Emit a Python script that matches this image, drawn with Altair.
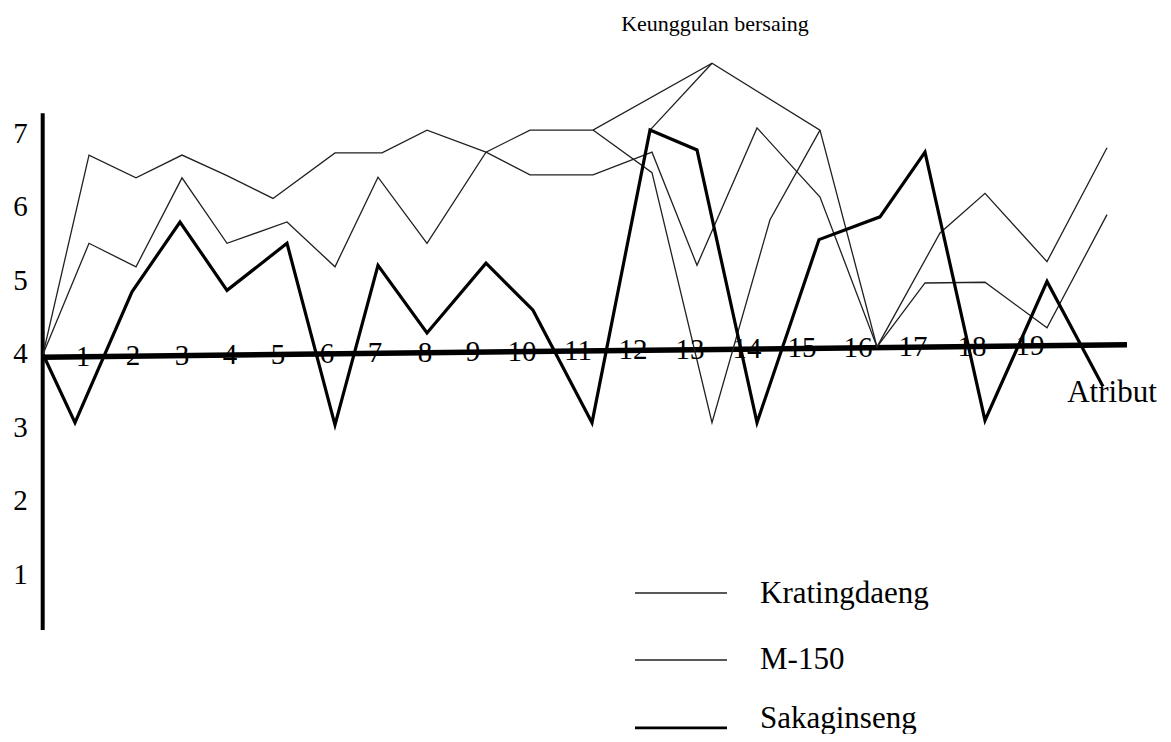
import altair as alt
import pandas as pd

FONT = "Liberation Serif, Times New Roman, Tinos, DejaVu Serif, serif"

# ---- data (x in attribute units, y on the 1..7 score scale) ----
series_names = ["Kratingdaeng", "M-150", "Sakaginseng"]

krating_x = [0, 0.92, 1.86, 2.78, 3.68, 4.6, 5.84, 6.78, 7.68, 8.86, 9.74, 11.0,
             12.18, 13.08, 14.28, 15.54, 16.68, 17.64, 18.84, 20.08, 21.28]
krating_y = [4.0, 6.71, 6.40, 6.71, 6.43, 6.12, 6.74, 6.74, 7.05, 6.75, 6.44, 6.44,
             6.75, 5.21, 7.08, 6.14, 4.10, 4.97, 4.98, 4.36, 5.90]
krating_branch_x = [12.14, 13.38]
krating_branch_y = [7.05, 7.96]

m150_x = [0, 0.92, 1.86, 2.78, 3.68, 4.88, 5.84, 6.7, 7.68, 8.86, 9.74, 11.0,
          13.38, 15.54, 16.68, 17.94, 18.84, 20.08, 21.28]
m150_y = [4.0, 5.51, 5.19, 6.40, 5.51, 5.80, 5.19, 6.41, 5.51, 6.75, 7.05, 7.05,
          7.96, 7.05, 4.10, 5.65, 6.19, 5.26, 6.81]
m150_branch_x = [11.0, 12.18, 13.38, 14.54, 15.54]
m150_branch_y = [7.05, 6.47, 3.07, 5.83, 7.05]

saka_x = [0, 0.64, 1.78, 2.74, 3.68, 4.88, 5.84, 6.7, 7.68, 8.86, 9.8, 10.98,
          12.14, 13.08, 14.28, 15.52, 16.74, 17.64, 18.84, 20.08, 21.2]
saka_y = [4.0, 3.07, 4.85, 5.80, 4.87, 5.51, 3.04, 5.21, 4.29, 5.24, 4.60, 3.07,
          7.05, 6.78, 3.07, 5.56, 5.87, 6.75, 3.10, 4.99, 3.56]

x_tick_labels = [str(i) for i in range(1, 20)]
x_tick_pos = [0.8, 1.8, 2.78, 3.74, 4.7, 5.68, 6.64, 7.64, 8.6, 9.58, 10.7, 11.8,
              12.94, 14.08, 15.18, 16.3, 17.4, 18.58, 19.74]
y_tick_values = [1, 2, 3, 4, 5, 6, 7]

title_text = "Keunggulan bersaing"
x_title_text = "Atribut"

# ---- build tables ----
strokes = [
    ("k_main", "Kratingdaeng", krating_x, krating_y),
    ("k_branch", "Kratingdaeng", krating_branch_x, krating_branch_y),
    ("m_main", "M-150", m150_x, m150_y),
    ("m_branch", "M-150", m150_branch_x, m150_branch_y),
    ("s_main", "Sakaginseng", saka_x, saka_y),
]
rows = []
for sid, name, xv_list, yv_list in strokes:
    for i, (xv, yv) in enumerate(zip(xv_list, yv_list)):
        rows.append({"stroke": sid, "series": name, "x": xv, "y": yv, "order": i})
lines_df = pd.DataFrame(rows)

X_DOM = [-0.7, 22.4]
Y_DOM = [-1.166, 8.711]
xs = alt.Scale(domain=X_DOM, nice=False, zero=False)
ys = alt.Scale(domain=Y_DOM, nice=False, zero=False)


def X(field):
    return alt.X(field, scale=xs, axis=None)


def Y(field):
    return alt.Y(field, scale=ys, axis=None)


# axis lines (slightly tilted horizontal axis as in the scan)
ax_x0, ax_x1, ax_y0, ax_y1 = -0.02, 21.68, 3.96, 4.13
haxis_df = pd.DataFrame([{"x": ax_x0, "x2": ax_x1, "y": ax_y0, "y2": ax_y1}])
vaxis_df = pd.DataFrame([{"x": -0.006, "x2": -0.006, "y": 0.25, "y2": 7.28}])

haxis = alt.Chart(haxis_df).mark_rule(color="black", strokeWidth=5.5).encode(
    x=X("x:Q"), x2="x2:Q", y=Y("y:Q"), y2="y2:Q")
vaxis = alt.Chart(vaxis_df).mark_rule(color="black", strokeWidth=4).encode(
    x=X("x:Q"), x2="x2:Q", y=Y("y:Q"), y2="y2:Q")

thin_df = lines_df[lines_df["series"] != "Sakaginseng"]
thick_df = lines_df[lines_df["series"] == "Sakaginseng"]

thin_lines = alt.Chart(thin_df).mark_line(color="#202020", strokeWidth=1.3).encode(
    x=X("x:Q"), y=Y("y:Q"), detail="stroke:N", order="order:Q")
thick_line = alt.Chart(thick_df).mark_line(color="black", strokeWidth=3.2).encode(
    x=X("x:Q"), y=Y("y:Q"), detail="stroke:N", order="order:Q")

xt_df = pd.DataFrame({"label": x_tick_labels, "x": x_tick_pos})
xt_df["y"] = ax_y0 + (ax_y1 - ax_y0) * (xt_df["x"] - ax_x0) / (ax_x1 - ax_x0)
xticks = alt.Chart(xt_df).mark_text(font=FONT, fontSize=29, align="center",
                                     baseline="middle", color="black").encode(
    x=X("x:Q"), y=Y("y:Q"), text="label:N")

yt_df = pd.DataFrame({"v": y_tick_values, "label": [str(v) for v in y_tick_values]})
yt_df["x"] = -0.45
yticks = alt.Chart(yt_df).mark_text(font=FONT, fontSize=29, align="center",
                                     baseline="middle", color="black").encode(
    x=X("x:Q"), y=Y("v:Q"), text="label:N")

title_df = pd.DataFrame([{"text": title_text, "x": 13.44, "y": 8.50}])
xtitle_df = pd.DataFrame([{"text": x_title_text, "x": 21.38, "y": 3.35}])
ann_title = alt.Chart(title_df).mark_text(font=FONT, fontSize=22, align="center",
                                          baseline="middle", color="black").encode(
    x=X("x:Q"), y=Y("y:Q"), text="text:N")
ann_xtitle = alt.Chart(xtitle_df).mark_text(font=FONT, fontSize=31, align="center",
                                            baseline="alphabetic", color="black").encode(
    x=X("x:Q"), y=Y("y:Q"), text="text:N")

# manual legend
leg_df = pd.DataFrame({
    "series": series_names,
    "x": [11.84] * 3, "x2": [13.68] * 3,
    "yl": [0.752, -0.159, -1.084],
    "yt": [0.616, -0.282, -1.084],
    "xt": [14.34] * 3,
})
leg_thin = alt.Chart(leg_df.iloc[:2]).mark_rule(color="#202020", strokeWidth=1.3).encode(
    x=X("x:Q"), x2="x2:Q", y=Y("yl:Q"))
leg_thick = alt.Chart(leg_df.iloc[2:]).mark_rule(color="black", strokeWidth=2.8).encode(
    x=X("x:Q"), x2="x2:Q", y=Y("yl:Q"))
leg_text = alt.Chart(leg_df).mark_text(font=FONT, fontSize=31, align="left",
                                       baseline="alphabetic", color="black").encode(
    x=X("xt:Q"), y=Y("yt:Q"), text="series:N")

chart = alt.layer(
    haxis, vaxis, thin_lines, thick_line, xticks, yticks, ann_title, ann_xtitle,
    leg_thin, leg_thick, leg_text
).properties(
    width=1155, height=726,
    autosize=alt.AutoSizeParams(type="none"),
    padding=0,
).configure(background="white").configure_view(strokeWidth=0, stroke="transparent")

chart.save("out.html", embed_options={"renderer": "svg", "actions": False})
